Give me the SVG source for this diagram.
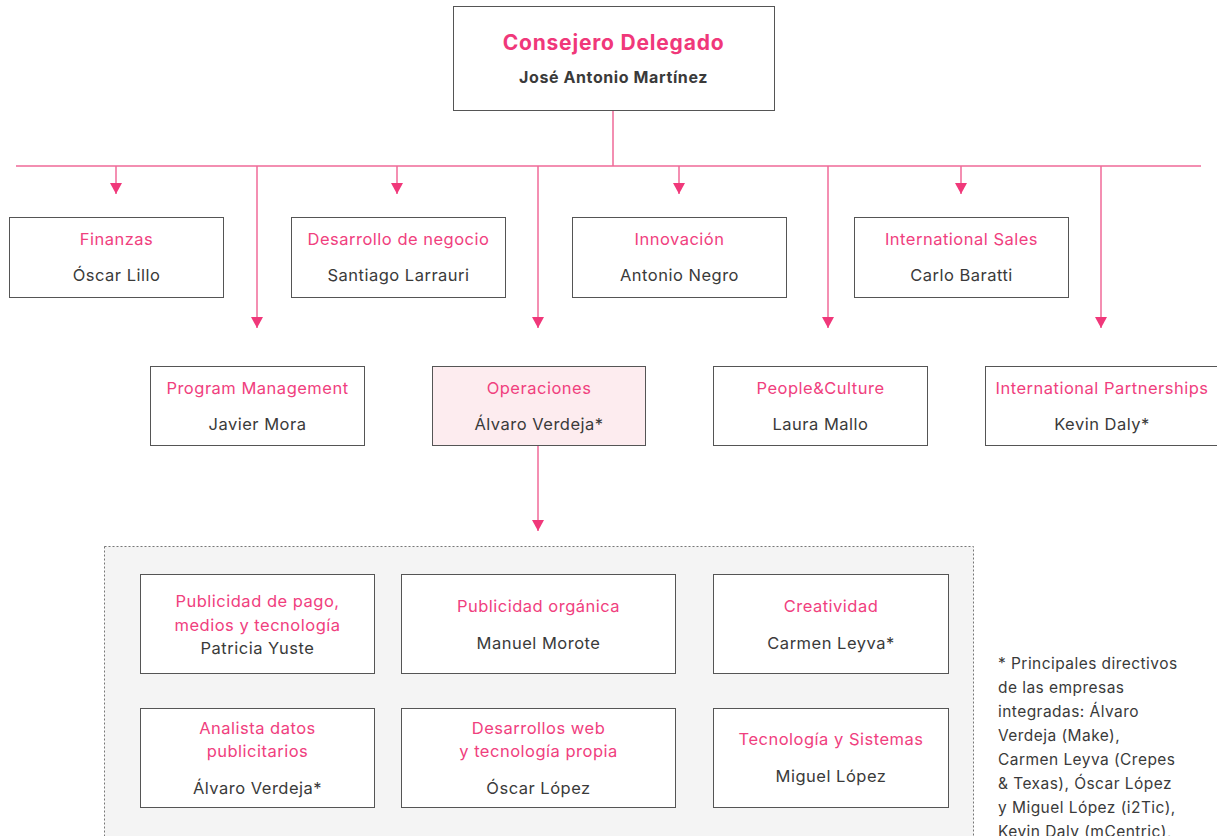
<svg xmlns="http://www.w3.org/2000/svg" width="1217" height="836" viewBox="0 0 1217 836">
<style>
.box{fill:#fff;stroke:#555;stroke-width:1}
.t{font-family:Inter,"Liberation Sans",sans-serif;font-size:16.5px;letter-spacing:0.5px;fill:#f0407e;text-anchor:middle}
.n{font-family:Inter,"Liberation Sans",sans-serif;font-size:16.5px;letter-spacing:0.5px;fill:#3a3a3a;text-anchor:middle}
.ln{stroke:#f06a98;stroke-width:1.5;fill:none}
.fn{font-family:Inter,"Liberation Sans",sans-serif;font-size:15.5px;letter-spacing:0.45px;fill:#3a3a3a}
</style>
<defs>
<marker id="ar" viewBox="0 0 11 12" refX="11" refY="6" markerWidth="11" markerHeight="12" markerUnits="userSpaceOnUse" orient="auto">
<path d="M0,0 L11,6 L0,12 z" fill="#f0387a"/>
</marker>
</defs>
<rect width="1217" height="836" fill="#fff"/>
<g id="container">
<rect x="104.5" y="546.5" width="869" height="300" fill="#f4f4f4" stroke="#777" stroke-width="1" stroke-dasharray="2,2"/>
</g>
<g id="connectors">
<path class="ln" d="M613,110 V166 M16,166 H1201"/>
<path class="ln" d="M116,166 V194" marker-end="url(#ar)"/>
<path class="ln" d="M397,166 V194" marker-end="url(#ar)"/>
<path class="ln" d="M679,166 V194" marker-end="url(#ar)"/>
<path class="ln" d="M961,166 V194" marker-end="url(#ar)"/>
<path class="ln" d="M257,166 V328" marker-end="url(#ar)"/>
<path class="ln" d="M538,166 V328" marker-end="url(#ar)"/>
<path class="ln" d="M828,166 V328" marker-end="url(#ar)"/>
<path class="ln" d="M1101,166 V328" marker-end="url(#ar)"/>
<path class="ln" d="M538,445 V531" marker-end="url(#ar)"/>
</g>
<g id="ceo">
<rect class="box" x="453.5" y="6.5" width="321" height="104"/>
<text x="613.5" y="50" style="font-family:Inter,'Liberation Sans',sans-serif;font-size:21px;font-weight:700;letter-spacing:0.8px;fill:#f0387a;text-anchor:middle">Consejero Delegado</text>
<text x="613.5" y="83" style="font-family:Inter,'Liberation Sans',sans-serif;font-size:16px;font-weight:700;letter-spacing:0.6px;fill:#3a3a3a;text-anchor:middle">José Antonio Martínez</text>
</g>
<g id="finanzas">
<rect class="box" x="9.5" y="217.5" width="214" height="80"/>
<text class="t" x="116.5" y="245">Finanzas</text>
<text class="n" x="116.5" y="281">Óscar Lillo</text>
</g>
<g id="desarrollo">
<rect class="box" x="291.5" y="217.5" width="214" height="80"/>
<text class="t" x="398.5" y="245">Desarrollo de negocio</text>
<text class="n" x="398.5" y="281">Santiago Larrauri</text>
</g>
<g id="innovacion">
<rect class="box" x="572.5" y="217.5" width="214" height="80"/>
<text class="t" x="679.5" y="245">Innovación</text>
<text class="n" x="679.5" y="281">Antonio Negro</text>
</g>
<g id="intsales">
<rect class="box" x="854.5" y="217.5" width="214" height="80"/>
<text class="t" x="961.5" y="245">International Sales</text>
<text class="n" x="961.5" y="281">Carlo Baratti</text>
</g>
<g id="program">
<rect class="box" x="150.5" y="366.5" width="214" height="79"/>
<text class="t" x="257.5" y="394">Program Management</text>
<text class="n" x="257.5" y="430">Javier Mora</text>
</g>
<g id="operaciones">
<rect class="box" x="432.5" y="366.5" width="213" height="79" style="fill:#fdecef"/>
<text class="t" x="539" y="394">Operaciones</text>
<text class="n" x="539" y="430">Álvaro Verdeja*</text>
</g>
<g id="people">
<rect class="box" x="713.5" y="366.5" width="214" height="79"/>
<text class="t" x="820.5" y="394">People&amp;Culture</text>
<text class="n" x="820.5" y="430">Laura Mallo</text>
</g>
<g id="intpartners">
<rect class="box" x="985.5" y="366.5" width="240" height="79"/>
<text class="t" x="1102" y="394">International Partnerships</text>
<text class="n" x="1102" y="430">Kevin Daly*</text>
</g>
<g id="pago">
<rect class="box" x="140.5" y="574.5" width="234" height="99"/>
<text class="t" x="257.5" y="607">Publicidad de pago,</text>
<text class="t" x="257.5" y="631">medios y tecnología</text>
<text class="n" x="257.5" y="654">Patricia Yuste</text>
</g>
<g id="organica">
<rect class="box" x="401.5" y="574.5" width="274" height="99"/>
<text class="t" x="538.5" y="612">Publicidad orgánica</text>
<text class="n" x="538.5" y="649">Manuel Morote</text>
</g>
<g id="creatividad">
<rect class="box" x="713.5" y="574.5" width="235" height="99"/>
<text class="t" x="831" y="612">Creatividad</text>
<text class="n" x="831" y="649">Carmen Leyva*</text>
</g>
<g id="analista">
<rect class="box" x="140.5" y="708.5" width="234" height="99"/>
<text class="t" x="257.5" y="734">Analista datos</text>
<text class="t" x="257.5" y="757">publicitarios</text>
<text class="n" x="257.5" y="794">Álvaro Verdeja*</text>
</g>
<g id="web">
<rect class="box" x="401.5" y="708.5" width="274" height="99"/>
<text class="t" x="538.5" y="734">Desarrollos web</text>
<text class="t" x="538.5" y="757">y tecnología propia</text>
<text class="n" x="538.5" y="794">Óscar López</text>
</g>
<g id="tecnologia">
<rect class="box" x="713.5" y="708.5" width="235" height="99"/>
<text class="t" x="831" y="745">Tecnología y Sistemas</text>
<text class="n" x="831" y="782">Miguel López</text>
</g>
<g id="footnote">
<text class="fn" x="998" y="669">* Principales directivos</text>
<text class="fn" x="998" y="693">de las empresas</text>
<text class="fn" x="998" y="717">integradas: Álvaro</text>
<text class="fn" x="998" y="741">Verdeja (Make),</text>
<text class="fn" x="998" y="765">Carmen Leyva (Crepes</text>
<text class="fn" x="998" y="789">&amp; Texas), Óscar López</text>
<text class="fn" x="998" y="813">y Miguel López (i2Tic),</text>
<text class="fn" x="998" y="837">Kevin Daly (mCentric),</text>
</g>
</svg>
